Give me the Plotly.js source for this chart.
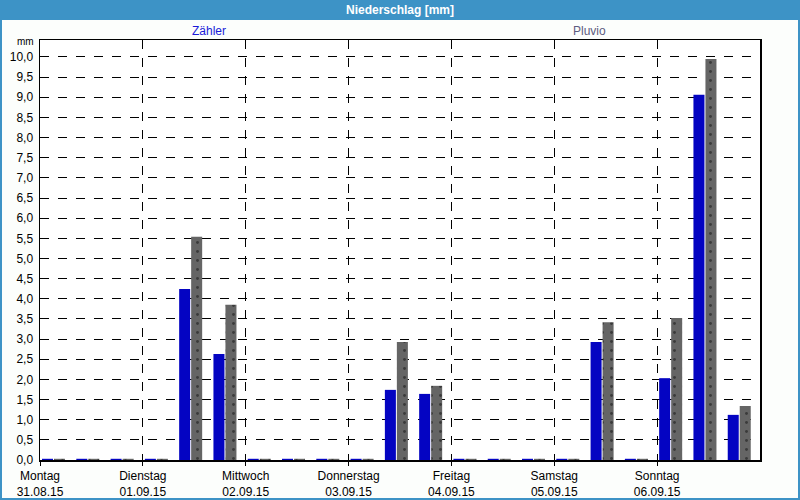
<!DOCTYPE html>
<html>
<head>
<meta charset="utf-8">
<script src="https://cdn.plot.ly/plotly-3.0.1.min.js"></script>
<style>html,body{margin:0;padding:0;background:#fcfefc;}#chart{width:800px;height:500px;}</style>
</head>
<body>
<div id="chart"></div>
<script>
// 8-hour bins, start times
const binStarts = [
  '2015-08-31 00:00','2015-08-31 08:00','2015-08-31 16:00',
  '2015-09-01 00:00','2015-09-01 08:00','2015-09-01 16:00',
  '2015-09-02 00:00','2015-09-02 08:00','2015-09-02 16:00',
  '2015-09-03 00:00','2015-09-03 08:00','2015-09-03 16:00',
  '2015-09-04 00:00','2015-09-04 08:00','2015-09-04 16:00',
  '2015-09-05 00:00','2015-09-05 08:00','2015-09-05 16:00',
  '2015-09-06 00:00','2015-09-06 08:00','2015-09-06 16:00'
];
const zaehler = [0.03,0.03,0.03, 0.03,4.24,2.63, 0.03,0.03,0.03, 0.03,1.74,1.64, 0.03,0.03,0.03, 0.03,2.93,0.03, 2.03,9.06,1.12];
const pluvio  = [0.03,0.03,0.03, 0.03,5.54,3.85, 0.03,0.03,0.03, 0.03,2.93,1.84, 0.03,0.03,0.03, 0.03,3.42,0.03, 3.52,9.95,1.34];
const dayTicks = ['2015-08-31','2015-09-01','2015-09-02','2015-09-03','2015-09-04','2015-09-05','2015-09-06'];
const dayNames = ['Montag','Dienstag','Mittwoch','Donnerstag','Freitag','Samstag','Sonntag'];
const dayDates = ['31.08.15','01.09.15','02.09.15','03.09.15','04.09.15','05.09.15','06.09.15'];
const seriesNames = ['Zähler','Pluvio'];

const H = 3600000;
const barW = 2.57 * H;
const FONT = 'Liberation Sans, DejaVu Sans, sans-serif';
const blue = '#3d93c6';

const traces = [
  {type:'bar', name:seriesNames[0], x:binStarts, y:zaehler,
   offset:0.47*H, width:barW,
   marker:{color:'#0404c2', line:{width:0}}, hoverinfo:'y'},
  {type:'bar', name:seriesNames[1], x:binStarts, y:pluvio,
   offset:3.27*H, width:barW,
   marker:{color:'#656565', line:{width:0},
     pattern:{shape:'.', bgcolor:'#656565', fgcolor:'#3a3a3a', size:9, solidity:0.08}}, hoverinfo:'y'}
];

const layout = {
  width:800, height:500,
  margin:{l:40, r:40, t:40, b:40},
  paper_bgcolor:'#fcfefc', plot_bgcolor:'#ffffff',
  separators:',.',
  showlegend:false,
  barmode:'overlay',
  font:{family:FONT, size:12, color:'#000'},
  xaxis:{type:'date', range:['2015-08-31 00:00','2015-09-07 00:00'],
    tickvals:dayTicks, ticktext:dayNames.map((d,i)=>d+'<br>'+dayDates[i]),
    showgrid:true, gridcolor:'#000', griddash:'dash', gridwidth:1,
    showline:true, mirror:true, linecolor:'#000', linewidth:1.5,
    ticks:'outside', ticklen:4, tickcolor:'#000',
    tickfont:{family:FONT, size:12, color:'#000'}, fixedrange:true},
  yaxis:{range:[0,10.42], tick0:0, dtick:0.5, tickformat:'.1f',
    showgrid:true, gridcolor:'#000', griddash:'dash', gridwidth:1,
    zeroline:false, showline:true, mirror:true, linecolor:'#000', linewidth:1.5,
    ticks:'', ticklabelstandoff:3,
    tickfont:{family:FONT, size:12, color:'#000'}, fixedrange:true},
  shapes:[
    {type:'rect', xref:'paper', yref:'paper', x0:-40/720, x1:760/720, y0:440/420, y1:460/420,
     fillcolor:blue, line:{width:0}, layer:'above'},
    {type:'rect', xref:'paper', yref:'paper', x0:-39/720, x1:759/720, y0:-39/420, y1:459/420,
     fillcolor:'rgba(0,0,0,0)', line:{color:blue, width:2}, layer:'above'}
  ],
  annotations:[
    {xref:'paper', yref:'paper', x:0.5, y:450/420, text:'<b>Niederschlag [mm]</b>', showarrow:false,
     xanchor:'center', yanchor:'middle', font:{family:FONT, size:12, color:'#ffffff'}},
    {xref:'paper', yref:'paper', x:169/720, y:429/420, text:seriesNames[0], showarrow:false,
     xanchor:'center', yanchor:'middle', font:{family:FONT, size:12, color:'#1a1ad8'}},
    {xref:'paper', yref:'paper', x:549/720, y:429/420, text:seriesNames[1], showarrow:false,
     xanchor:'center', yanchor:'middle', font:{family:FONT, size:12, color:'#5c5c80'}},
    {xref:'paper', yref:'paper', x:-4/720, y:418/420, text:'mm', showarrow:false,
     xanchor:'right', yanchor:'middle', font:{family:FONT, size:10, color:'#000'}}
  ]
};

Plotly.newPlot('chart', traces, layout, {displayModeBar:false, staticPlot:true});
</script>
</body>
</html>
